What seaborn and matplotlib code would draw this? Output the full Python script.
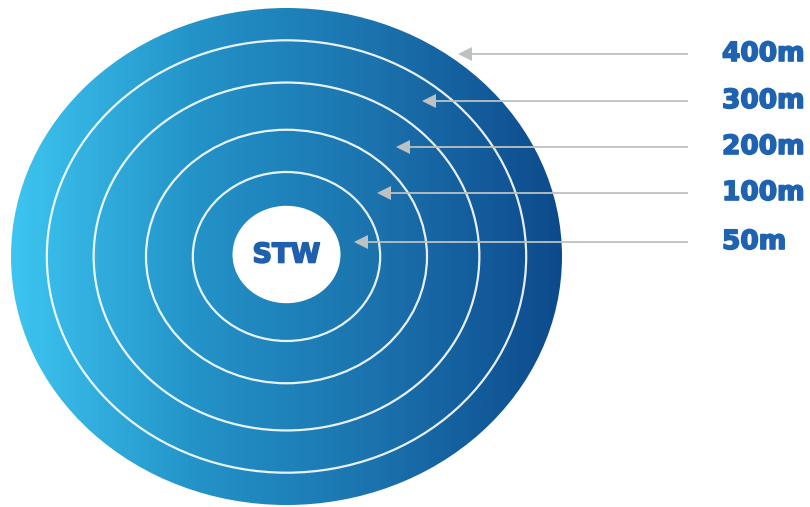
import numpy as np
import matplotlib
matplotlib.use("Agg")
import matplotlib.pyplot as plt
import matplotlib.patheffects as pe
from matplotlib.patches import Ellipse
import seaborn as sns

# Distance bands around the STW, outermost first
distance_labels = ["400m", "300m", "200m", "100m", "50m"]
# relative size of each ring (outer edge = 1.0), plus the white centre
ring_scale = [1.0, 0.87, 0.70, 0.51, 0.34]
centre_scale = 0.196
centre_label = "STW"

# arrow layout: y of each pointer and where its head stops
arrow_y = [54, 101, 147, 193, 242]
arrow_tip_x = [458, 422, 396, 377, 354]

sns.set_theme(style="white")
plt.rcParams['font.family'] = ['DejaVu Sans']

fig = plt.figure(figsize=(8.1, 5.07), dpi=100)
ax = fig.add_axes([0, 0, 1, 1])
ax.set_xlim(0, 810)
ax.set_ylim(507, 0)
ax.axis("off")

cx, cy = 286.5, 256.5
rx, ry = 275.5, 248.5

# horizontal gradient, light blue to dark blue
cmap = sns.blend_palette(["#3dc5f0", "#2393c8", "#1b72ad", "#0d4a8c"], as_cmap=True)
grad = np.linspace(0, 1, 512).reshape(1, -1)
img = ax.imshow(grad, cmap=cmap, aspect="auto",
                extent=[cx - rx, cx + rx, cy + ry, cy - ry], zorder=1)
outer = Ellipse((cx, cy), 2 * rx, 2 * ry, facecolor="none", edgecolor="none")
ax.add_patch(outer)
img.set_clip_path(outer)

# white ring outlines
for s in ring_scale[1:]:
    ax.add_patch(Ellipse((cx, cy), 2 * rx * s, 2 * ry * s, facecolor="none",
                         edgecolor="white", lw=1.6, alpha=0.9, zorder=2))

# white centre
ax.add_patch(Ellipse((cx, cy - 2), 2 * rx * centre_scale, 2 * ry * centre_scale,
                     facecolor="white", edgecolor="none", zorder=3))
ax.text(cx, cy - 1, centre_label, ha="center", va="center", fontsize=19.5,
        fontweight="bold", color="#1f5fae", zorder=4,
        path_effects=[pe.withStroke(linewidth=1.2, foreground="#1f5fae")])

# pointers and labels
for lab, y, tx in zip(distance_labels, arrow_y, arrow_tip_x):
    ax.arrow(688, y, tx - 688, 0, width=1.8, head_width=14, head_length=14,
             length_includes_head=True, color="#bcc2c2", lw=0, zorder=5)
    ax.text(722, y, lab, ha="left", va="center", fontsize=19,
            fontweight="bold", color="#1e62b0",
            path_effects=[pe.withStroke(linewidth=1.2, foreground="#1e62b0")])

fig.savefig("out.png", dpi=100)
